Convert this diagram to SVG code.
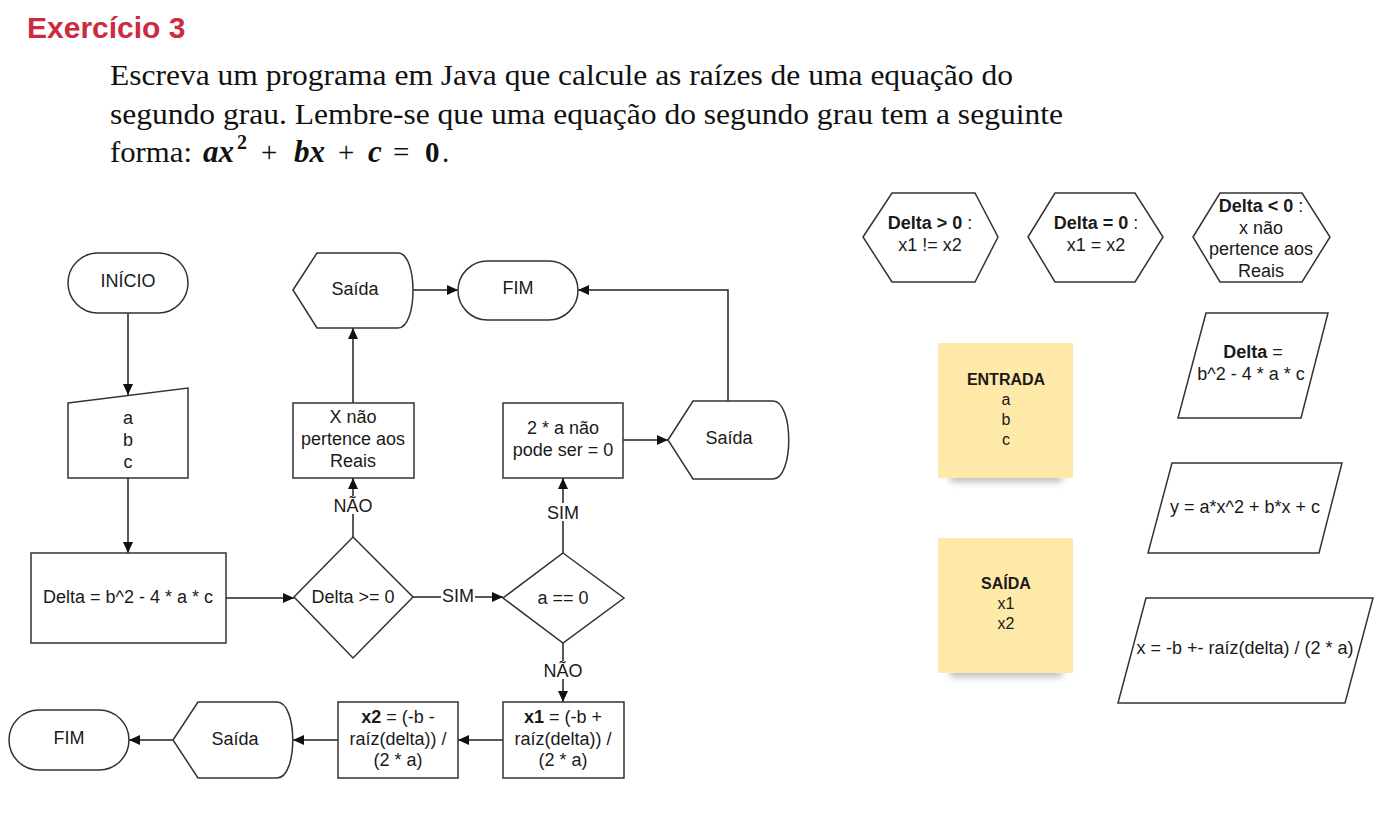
<svg xmlns="http://www.w3.org/2000/svg" width="1386" height="817" viewBox="0 0 1386 817">
<style>
.s{fill:#fff;stroke:#333;stroke-width:1.5}
.t{font-family:"Liberation Sans",Arial,sans-serif;font-size:18px;fill:#1a1a1a;text-anchor:middle}
.n{font-family:"Liberation Sans",Arial,sans-serif;font-size:16px;fill:#1a1a1a;text-anchor:middle}
.c{fill:none;stroke:#222;stroke-width:1.5}
.p{font-family:"Liberation Serif","Times New Roman",serif;font-size:29px;fill:#111}
.m{font-weight:bold;font-style:italic;font-size:31px}
.sticky{fill:#ffe9a8}
.b{font-weight:bold}
</style>
<defs>
<marker id="ah" markerUnits="userSpaceOnUse" markerWidth="12" markerHeight="10" refX="11" refY="5" orient="auto">
<path d="M0,0 L11,5 L0,10 z" fill="#111"/>
</marker>
<filter id="blur" x="-20%" y="-100%" width="140%" height="300%"><feGaussianBlur stdDeviation="3.5"/></filter>
</defs>
<rect width="1386" height="817" fill="#fff"/>
<text x="27" y="38" font-family="'Liberation Sans',Arial,sans-serif" font-size="30" font-weight="bold" fill="#cc2b3d">Exercício 3</text>
<text class="p" x="110" y="85" textLength="903" lengthAdjust="spacingAndGlyphs">Escreva um programa em Java que calcule as raízes de uma equação do</text>
<text class="p" x="110" y="124" textLength="953" lengthAdjust="spacingAndGlyphs">segundo grau. Lembre-se que uma equação do segundo grau tem a seguinte</text>
<text class="p" y="162"><tspan x="110" textLength="82" lengthAdjust="spacingAndGlyphs">forma:</tspan><tspan x="203" class="m">ax</tspan><tspan x="237" y="149" font-size="20" font-weight="bold">2</tspan><tspan x="261" y="162">+</tspan><tspan x="294" class="m">bx</tspan><tspan x="338">+</tspan><tspan x="368" class="m">c</tspan><tspan x="393">=</tspan><tspan x="425" font-weight="bold">0</tspan><tspan x="442">.</tspan></text>

<g id="connectors">
<path class="c" d="M128,313 V395" marker-end="url(#ah)"/>
<path class="c" d="M128,478 V553" marker-end="url(#ah)"/>
<path class="c" d="M226,598 H294" marker-end="url(#ah)"/>
<path class="c" d="M413,597 H503" marker-end="url(#ah)"/>
<path class="c" d="M353,537 V478" marker-end="url(#ah)"/>
<path class="c" d="M353,403 V328" marker-end="url(#ah)"/>
<path class="c" d="M413,290 H458" marker-end="url(#ah)"/>
<path class="c" d="M563,553 V478" marker-end="url(#ah)"/>
<path class="c" d="M623,440 H668" marker-end="url(#ah)"/>
<path class="c" d="M728,401 V290 H578" marker-end="url(#ah)"/>
<path class="c" d="M563,643 V702" marker-end="url(#ah)"/>
<path class="c" d="M503,740 H458" marker-end="url(#ah)"/>
<path class="c" d="M338,740 H293" marker-end="url(#ah)"/>
<path class="c" d="M173,740 H129" marker-end="url(#ah)"/>
<rect x="441" y="588" width="34" height="17" fill="#fff"/>
<text class="t" x="458" y="602">SIM</text>
<rect x="334" y="496" width="38" height="18" fill="#fff"/>
<text class="t" x="353" y="512">NÃO</text>
<rect x="546" y="503" width="34" height="18" fill="#fff"/>
<text class="t" x="563" y="519">SIM</text>
<rect x="544" y="661" width="38" height="18" fill="#fff"/>
<text class="t" x="563" y="677">NÃO</text>
</g>

<g id="inicio"><rect class="s" x="68" y="253" width="120" height="60" rx="30"/><text class="t" x="128" y="287">INÍCIO</text></g>
<g id="entrada-abc"><polygon class="s" points="68,403 188,388 188,478 68,478"/><text class="t" x="128" y="424">a</text><text class="t" x="128" y="446">b</text><text class="t" x="128" y="468">c</text></g>
<g id="calc-delta"><rect class="s" x="31" y="553" width="195" height="90"/><text class="t" x="128" y="603">Delta = b^2 - 4 * a * c</text></g>
<g id="dec-delta"><polygon class="s" points="353,537 413,597 353,658 294,597"/><text class="t" x="353" y="603">Delta &gt;= 0</text></g>
<g id="dec-a"><polygon class="s" points="563,553 624,598 563,643 503,598"/><text class="t" x="563" y="604">a == 0</text></g>
<g id="x-nao-reais"><rect class="s" x="293" y="403" width="121" height="75"/><text class="t" x="353" y="423">X não</text><text class="t" x="353" y="445">pertence aos</text><text class="t" x="353" y="467">Reais</text></g>
<g id="saida-top"><path class="s" d="M293,290 L317,253 L398,253 C418,253 418,328 398,328 L317,328 Z"/><text class="t" x="355" y="295">Saída</text></g>
<g id="fim-top"><rect class="s" x="458" y="261" width="120" height="59" rx="29.5"/><text class="t" x="518" y="294">FIM</text></g>
<g id="a-zero"><rect class="s" x="503" y="403" width="120" height="75"/><text class="t" x="563" y="434">2 * a não</text><text class="t" x="563" y="456">pode ser = 0</text></g>
<g id="saida-right"><path class="s" d="M668,440 L693,401 L773,401 C794,401 794,479 773,479 L693,479 Z"/><text class="t" x="729" y="444">Saída</text></g>
<g id="x1"><rect class="s" x="503" y="702" width="121" height="76"/><text class="t" x="563" y="723"><tspan class="b">x1</tspan> = (-b +</text><text class="t" x="563" y="745">raíz(delta)) /</text><text class="t" x="563" y="766">(2 * a)</text></g>
<g id="x2"><rect class="s" x="338" y="702" width="120" height="76"/><text class="t" x="398" y="723"><tspan class="b">x2</tspan> = (-b -</text><text class="t" x="398" y="745">raíz(delta)) /</text><text class="t" x="398" y="766">(2 * a)</text></g>
<g id="saida-bottom"><path class="s" d="M173,740 L198,702 L277,702 C298,702 298,778 277,778 L198,778 Z"/><text class="t" x="235" y="745">Saída</text></g>
<g id="fim-bottom"><rect class="s" x="9" y="710" width="120" height="60" rx="30"/><text class="t" x="69" y="744">FIM</text></g>

<g id="hex-pos"><polygon class="s" points="863,237 892,193 975,193 998,237 975,282 892,282"/><text class="t" x="930" y="229"><tspan class="b">Delta &gt; 0</tspan> :</text><text class="t" x="930" y="251">x1 != x2</text></g>
<g id="hex-zero"><polygon class="s" points="1028,237 1055,193 1135,193 1163,237 1135,282 1055,282"/><text class="t" x="1096" y="229"><tspan class="b">Delta = 0</tspan> :</text><text class="t" x="1096" y="251">x1 = x2</text></g>
<g id="hex-neg"><polygon class="s" points="1193,237 1220,193 1302,193 1330,237 1302,282 1220,282"/><text class="t" x="1261" y="212"><tspan class="b">Delta &lt; 0</tspan> :</text><text class="t" x="1261" y="234">x não</text><text class="t" x="1261" y="255">pertence aos</text><text class="t" x="1261" y="277">Reais</text></g>

<g id="note-entrada"><rect x="950" y="470" width="112" height="12" fill="#888" opacity="0.55" filter="url(#blur)"/><rect class="sticky" x="938" y="343" width="135" height="135"/><text class="n" x="1006" y="385"><tspan class="b">ENTRADA</tspan></text><text class="n" x="1006" y="405">a</text><text class="n" x="1006" y="425">b</text><text class="n" x="1006" y="445">c</text></g>
<g id="note-saida"><rect x="950" y="665" width="112" height="12" fill="#888" opacity="0.55" filter="url(#blur)"/><rect class="sticky" x="938" y="538" width="135" height="135"/><text class="n" x="1006" y="589"><tspan class="b">SAÍDA</tspan></text><text class="n" x="1006" y="609">x1</text><text class="n" x="1006" y="629">x2</text></g>

<g id="par-delta"><polygon class="s" points="1206,313 1328,313 1301,418 1178,418"/><text class="t" x="1253" y="358"><tspan class="b">Delta</tspan> =</text><text class="t" x="1251" y="380">b^2 - 4 * a * c</text></g>
<g id="par-y"><polygon class="s" points="1172,463 1342,463 1319,553 1148,553"/><text class="t" x="1245" y="513">y = a*x^2 + b*x + c</text></g>
<g id="par-x"><polygon class="s" points="1146,598 1373,598 1345,703 1118,703"/><text class="t" x="1245" y="654">x = -b +- raíz(delta) / (2 * a)</text></g>
</svg>
